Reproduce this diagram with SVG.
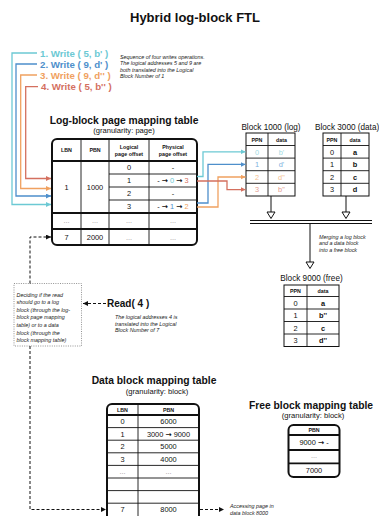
<svg xmlns="http://www.w3.org/2000/svg" width="379" height="516" viewBox="0 0 379 516">
<style>
text{font-family:"Liberation Sans",Arial,"DejaVu Sans",sans-serif;fill:#111}
.t{font-size:13px;font-weight:bold;text-anchor:middle}
.h{font-size:10.3px;font-weight:bold;text-anchor:middle}
.sub{font-size:7.6px;text-anchor:middle}
.note{font-size:5.4px;font-style:italic;fill:#222}
.w{font-size:9.7px;font-weight:bold}
.th{font-size:5.3px;font-weight:bold;text-anchor:middle}
.c{font-size:7.4px;text-anchor:middle}
.cb{font-size:7.4px;font-weight:bold;text-anchor:middle}
.ar{font-family:"DejaVu Sans",sans-serif;font-weight:bold}
.dots{fill:#999}
.lbl{font-size:8.2px}
.grid{fill:none;stroke:#111;stroke-width:0.9}
.thick{fill:none;stroke:#111;stroke-width:1.8}
.frame{fill:#fff;stroke:#111;stroke-width:2}
.box{fill:#fff;stroke:#111;stroke-width:1}
.cy{fill:#6cc9d4}.bl{fill:#4e8fcb}.or{fill:#f0a160}.rd{fill:#d4705f}
.pcy{fill:#9fdbe3}.pbl{fill:#80b1de}.por{fill:#f5c08f}.prd{fill:#e39b8e}
.lc{fill:none;stroke-width:1.3}
.dash{fill:none;stroke:#111;stroke-width:1;stroke-dasharray:3 2}
.tri{fill:#fff;stroke:#111;stroke-width:1}
</style>
<defs>
<marker id="mcy" viewBox="0 0 6 6" refX="6" refY="3" markerWidth="5" markerHeight="5" markerUnits="userSpaceOnUse" orient="auto"><path d="M0,0L6,3L0,6z" fill="#6cc9d4"/></marker>
<marker id="mbl" viewBox="0 0 6 6" refX="6" refY="3" markerWidth="5" markerHeight="5" markerUnits="userSpaceOnUse" orient="auto"><path d="M0,0L6,3L0,6z" fill="#4e8fcb"/></marker>
<marker id="mor" viewBox="0 0 6 6" refX="6" refY="3" markerWidth="5" markerHeight="5" markerUnits="userSpaceOnUse" orient="auto"><path d="M0,0L6,3L0,6z" fill="#f0a160"/></marker>
<marker id="mrd" viewBox="0 0 6 6" refX="6" refY="3" markerWidth="5" markerHeight="5" markerUnits="userSpaceOnUse" orient="auto"><path d="M0,0L6,3L0,6z" fill="#d4705f"/></marker>
<marker id="mk" viewBox="0 0 6 6" refX="6" refY="3" markerWidth="5" markerHeight="5" markerUnits="userSpaceOnUse" orient="auto"><path d="M0,0L6,3L0,6z" fill="#111"/></marker>
</defs>

<text class="t" x="195" y="22">Hybrid log-block FTL</text>

<!-- write operations -->
<g id="writes">
<text class="w cy" x="40" y="56.5">1. Write ( 5, b' )</text>
<text class="w bl" x="40" y="67.5">2. Write ( 9, d' )</text>
<text class="w or" x="40" y="78.5">3. Write ( 9, d'' )</text>
<text class="w rd" x="41" y="90">4. Write ( 5, b'' )</text>
<text class="note" x="120" y="58.5">Sequence of four writes operations.</text>
<text class="note" x="120" y="65">The logical addresses 5 and 9 are</text>
<text class="note" x="120" y="71.5">both translated into the Logical</text>
<text class="note" x="120" y="78">Block Number of 1</text>
</g>

<!-- log-block page mapping table -->
<g id="log-table">
<text class="h" x="124" y="123.5">Log-block page mapping table</text>
<text class="sub" x="124" y="133">(granularity: page)</text>
<rect class="frame" x="52" y="139" width="145" height="106" rx="5"/>
<path class="grid" d="M81,139V245M109,139V245M149,139V245M109,174H197M109,187H197M109,200H197"/>
<path class="thick" d="M52,161H197M52,213H197M52,229H197"/>
<text class="th" x="66.5" y="152">LBN</text>
<text class="th" x="95" y="152">PBN</text>
<text class="th" x="129" y="148.5">Logical</text>
<text class="th" x="129" y="155.5">page offset</text>
<text class="th" x="173" y="148.5">Physical</text>
<text class="th" x="173" y="155.5">page offset</text>
<text class="c" x="66.5" y="190">1</text>
<text class="c" x="95" y="190">1000</text>
<text class="c" x="129" y="170.3">0</text>
<text class="c" x="129" y="183.3">1</text>
<text class="c" x="129" y="196.3">2</text>
<text class="c" x="129" y="209.3">3</text>
<text class="c" x="173" y="170.3">-</text>
<text class="c" x="173" y="183.3">- <tspan class="ar">→</tspan> <tspan class="cy">0</tspan> <tspan class="ar">→</tspan> <tspan class="rd">3</tspan></text>
<text class="c" x="173" y="196.3">-</text>
<text class="c" x="173" y="209.3">- <tspan class="ar">→</tspan> <tspan class="bl">1</tspan> <tspan class="ar">→</tspan> <tspan class="or">2</tspan></text>
<text class="c dots" x="66.5" y="223">...</text>
<text class="c dots" x="95" y="223">...</text>
<text class="c dots" x="129" y="223">...</text>
<text class="c dots" x="173" y="223">...</text>
<text class="c" x="66.5" y="239.8">7</text>
<text class="c" x="95" y="239.8">2000</text>
<text class="c dots" x="129" y="239.8">...</text>
<text class="c dots" x="173" y="239.8">...</text>
</g>

<!-- Block 1000 (log) -->
<g id="block-1000">
<text class="lbl" x="271" y="130" text-anchor="middle">Block 1000 (log)</text>
<rect class="box" x="246" y="133" width="49" height="63"/>
<path class="grid" d="M268,133V196M246,145.5H295M246,158.1H295M246,170.7H295M246,183.3H295"/>
<text class="th" x="257" y="141.5">PPN</text>
<text class="th" x="281.5" y="141.5">data</text>
<text class="c pcy" x="257" y="154.5">0</text><text class="c pcy" x="281.5" y="154.5">b'</text>
<text class="c pbl" x="257" y="167.1">1</text><text class="c pbl" x="281.5" y="167.1">d'</text>
<text class="c por" x="257" y="179.7">2</text><text class="c por" x="281.5" y="179.7">d''</text>
<text class="c prd" x="257" y="192.3">3</text><text class="c prd" x="281.5" y="192.3">b''</text>
</g>

<!-- Block 3000 (data) -->
<g id="block-3000">
<text class="lbl" x="315" y="130" font-size="7.8px">Block 3000 (data)</text>
<rect class="box" x="323" y="133" width="46" height="63"/>
<path class="grid" d="M341,133V196M323,145.5H369M323,158.1H369M323,170.7H369M323,183.3H369"/>
<text class="th" x="332" y="141.5">PPN</text>
<text class="th" x="355" y="141.5">data</text>
<text class="c" x="332" y="154.5">0</text><text class="cb" x="355" y="154.5">a</text>
<text class="c" x="332" y="167.1">1</text><text class="cb" x="355" y="167.1">b</text>
<text class="c" x="332" y="179.7">2</text><text class="cb" x="355" y="179.7">c</text>
<text class="c" x="332" y="192.3">3</text><text class="cb" x="355" y="192.3">d</text>
</g>

<!-- Block 9000 (free) -->
<g id="block-9000">
<text class="lbl" x="311.5" y="281" text-anchor="middle">Block 9000 (free)</text>
<rect class="box" x="284" y="285" width="55" height="61.5"/>
<path class="grid" d="M307,285V346.5M284,296.5H339M284,309H339M284,321.5H339M284,334H339"/>
<text class="th" x="295.5" y="293">PPN</text>
<text class="th" x="323" y="293">data</text>
<text class="c" x="295.5" y="305.5">0</text><text class="cb" x="323" y="305.5">a</text>
<text class="c" x="295.5" y="318">1</text><text class="cb" x="323" y="318">b''</text>
<text class="c" x="295.5" y="330.5">2</text><text class="cb" x="323" y="330.5">c</text>
<text class="c" x="295.5" y="343">3</text><text class="cb" x="323" y="343">d''</text>
<text class="note" x="319" y="238.5">Merging a log block</text>
<text class="note" x="319" y="245">and a data block</text>
<text class="note" x="319" y="251.5">into a free block</text>
</g>

<!-- read request -->
<g id="read">
<rect x="14" y="283.5" width="67.5" height="62.5" fill="none" stroke="#777" stroke-width="0.8" stroke-dasharray="1 1.3"/>
<text class="note" x="16.5" y="296.5">Deciding if the read</text>
<text class="note" x="16.5" y="304.1">should go to a log</text>
<text class="note" x="16.5" y="311.7">block (through the log-</text>
<text class="note" x="16.5" y="319.3">block page mapping</text>
<text class="note" x="16.5" y="326.9">table) or to a data</text>
<text class="note" x="16.5" y="334.5">block (through the</text>
<text class="note" x="16.5" y="342.1">block mapping table)</text>
<text x="107" y="306.5" font-size="10px" font-weight="bold">Read( 4 )</text>
<text class="note" x="115" y="319">The logical addresses 4 is</text>
<text class="note" x="115" y="325.5">translated into the Logical</text>
<text class="note" x="115" y="332">Block Number of 7</text>
</g>

<!-- data block mapping table -->
<g id="data-table">
<text class="h" x="154" y="383.5">Data block mapping table</text>
<text class="sub" x="157" y="394">(granularity: block)</text>
<rect class="frame" x="107" y="404" width="92" height="130" rx="5"/>
<path class="grid" d="M138,404V520M107,427.6H199M107,440.2H199M107,452.8H199M107,465.4H199M107,478H199M107,490.6H199M107,503.2H199"/>
<path class="thick" d="M107,415H199"/>
<text class="th" x="122.5" y="411.5">LBN</text>
<text class="th" x="168.5" y="411.5">PBN</text>
<text class="c" x="122.5" y="424">0</text><text class="c" x="168.5" y="424">6000</text>
<text class="c" x="122.5" y="436.6">1</text><text class="c" x="168.5" y="436.6">3000 <tspan class="ar">→</tspan> 9000</text>
<text class="c" x="122.5" y="449.2">2</text><text class="c" x="168.5" y="449.2">5000</text>
<text class="c" x="122.5" y="461.8">3</text><text class="c" x="168.5" y="461.8">4000</text>
<text class="c dots" x="122.5" y="474">...</text><text class="c dots" x="168.5" y="474">...</text>
<text class="c" x="122.5" y="512.2">7</text><text class="c" x="168.5" y="512.2">8000</text>
</g>

<!-- free block mapping table -->
<g id="free-table">
<text class="h" x="311" y="408.5">Free block mapping table</text>
<text class="sub" x="313" y="418">(granularity: block)</text>
<rect class="frame" x="288.5" y="425" width="51" height="52" rx="5"/>
<path class="thick" d="M288.5,435H339.5M288.5,450H339.5M288.5,463.3H339.5"/>
<text class="th" x="314" y="432">PBN</text>
<text class="c" x="314" y="445.2">9000 <tspan class="ar">→</tspan> -</text>
<text class="c dots" x="314" y="458">...</text>
<text class="c" x="314" y="473">7000</text>
<text class="note" x="230" y="508">Accessing page in</text>
<text class="note" x="230" y="515">data block 8000</text>
</g>

<!-- connectors -->
<g id="connectors">
<path class="lc" stroke="#6cc9d4" d="M37,53H12V204.5H51" marker-end="url(#mcy)"/>
<path class="lc" stroke="#4e8fcb" d="M37,64H16V196H51" marker-end="url(#mbl)"/>
<path class="lc" stroke="#f0a160" d="M37,75H20.7V188.5H51" marker-end="url(#mor)"/>
<path class="lc" stroke="#d4705f" d="M38,86.7H25.7V178.5H51" marker-end="url(#mrd)"/>
<path class="lc" stroke="#6cc9d4" d="M197,176.5H203V151.8H245.5" marker-end="url(#mcy)"/>
<path class="lc" stroke="#4e8fcb" d="M197,203H208V164.4H245.5" marker-end="url(#mbl)"/>
<path class="lc" stroke="#f0a160" d="M197,207H218V177H245.5" marker-end="url(#mor)"/>
<path class="lc" stroke="#d4705f" d="M197,181H227V189.6H245.5" marker-end="url(#mrd)"/>
<path d="M271,196V212M346,196V212M250,220.5H372M250,223.5H372M310,223.5V262" fill="none" stroke="#111" stroke-width="1"/>
<polygon class="tri" points="267,212 275,212 271,218.5"/>
<polygon class="tri" points="342,212 350,212 346,218.5"/>
<polygon class="tri" points="306,262 314,262 310,268.5"/>
<path class="dash" d="M106,303.5H83" marker-end="url(#mk)"/>
<path class="dash" d="M30,283.5V237H51" marker-end="url(#mk)"/>
<path class="dash" d="M30,346V509.5H106" marker-end="url(#mk)"/>
<path class="dash" d="M200,509.5H224" marker-end="url(#mk)"/>
</g>
</svg>
